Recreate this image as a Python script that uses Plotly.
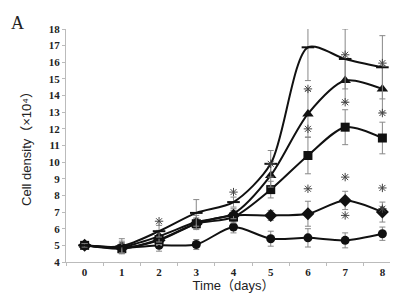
import plotly.graph_objects as go

days = [0, 1, 2, 3, 4, 5, 6, 7, 8]
tick_labels = ["0", "1", "2", "3", "4", "5", "6", "7", "8"]

circle = [5.0, 4.85, 5.0, 5.05, 6.1, 5.4, 5.45, 5.3, 5.7]
diamond = [5.0, 4.85, 5.3, 6.3, 6.8, 6.8, 6.9, 7.7, 7.0]
square = [5.0, 4.8, 5.35, 6.3, 6.7, 8.35, 10.4, 12.1, 11.45]
triangle = [5.0, 4.9, 5.55, 6.4, 6.9, 9.2, 12.9, 14.9, 14.4]
top = [5.0, 4.95, 5.85, 6.95, 7.6, 9.9, 16.9, 16.2, 15.7]

circle_err = [0.1, 0.3, 0.35, 0.3, 0.35, 0.45, 0.55, 0.45, 0.4]
diamond_err = [0.1, 0.3, 0.3, 0.3, 0.3, 0.3, 0.75, 0.55, 0.6]
square_err = [0.1, 0.3, 0.3, 0.35, 0.35, 0.5, 1.1, 1.05, 0.95]
triangle_err = [0.1, 0.35, 0.35, 0.4, 0.3, 0.7, 1.4, 1.3, 1.4]
top_err = [0.1, 0.45, 0.35, 0.8, 0.3, 0.8, 2.0, 1.8, 1.9]

star_x = [2, 4, 5, 6, 6, 6, 7, 7, 7, 7, 8, 8, 8, 8]
star_y = [6.45, 8.2, 9.9, 14.4, 12.0, 8.4, 16.45, 13.6, 9.1, 6.8, 15.95, 12.95, 8.45, 7.2]

series = [
    (circle, circle_err, "circle", 9),
    (diamond, diamond_err, "diamond", 10),
    (square, square_err, "square", 9),
    (triangle, triangle_err, "triangle-up", 10),
    (top, top_err, "line-ew", 9),
]

fig = go.Figure()
for vals, err, sym, size in series:
    fig.add_trace(go.Scatter(
        x=days, y=vals, mode="lines+markers",
        line=dict(color="#111111", width=2, shape="spline", smoothing=0.8),
        marker=dict(symbol=sym, size=size, color="#111111",
                    line=dict(color="#111111", width=2 if sym == "line-ew" else 0)),
        error_y=dict(type="data", array=err, visible=True, color="#888888",
                     thickness=1, width=3),
        showlegend=False,
    ))

fig.add_trace(go.Scatter(
    x=star_x, y=star_y, mode="markers",
    marker=dict(symbol="asterisk-open", size=7, color="#444444",
                line=dict(color="#444444", width=1)),
    showlegend=False,
))

fig.update_layout(
    width=398, height=293,
    margin=dict(l=58, r=5, t=21, b=39),
    paper_bgcolor="white", plot_bgcolor="white",
    font=dict(family="Liberation Serif", color="#222222"),
    xaxis=dict(
        range=[-0.5, 8.5], tickvals=days, ticktext=tick_labels,
        showgrid=False, zeroline=False, showline=True, linecolor="#bbbbbb", linewidth=1,
        ticks="", tickfont=dict(family="Liberation Serif", size=11, weight="bold"),
        minor=dict(ticks="outside", tick0=0.5, dtick=1, ticklen=3, tickcolor="#bbbbbb"),
        title=dict(text="Time（days）", font=dict(family="Liberation Sans, Noto Sans CJK JP", size=13),
                   standoff=3),
    ),
    yaxis=dict(
        range=[4, 18], dtick=1, showgrid=False, zeroline=False, showline=True,
        linecolor="#bbbbbb", linewidth=1, ticks="outside", ticklen=3, tickcolor="#bbbbbb",
        tickfont=dict(family="Liberation Serif", size=11, weight="bold"),
        title=dict(text="Cell density（×10⁴）",
                   font=dict(family="Liberation Sans, Noto Sans CJK JP", size=13),
                   standoff=14),
    ),
)

fig.add_annotation(text="A", x=0.0, y=1.0, xref="paper", yref="paper",
                   xanchor="left", yanchor="top", showarrow=False,
                   xshift=-57, yshift=18,
                   font=dict(family="Liberation Serif", size=18, color="#222222"))

fig.write_html("out.html")
